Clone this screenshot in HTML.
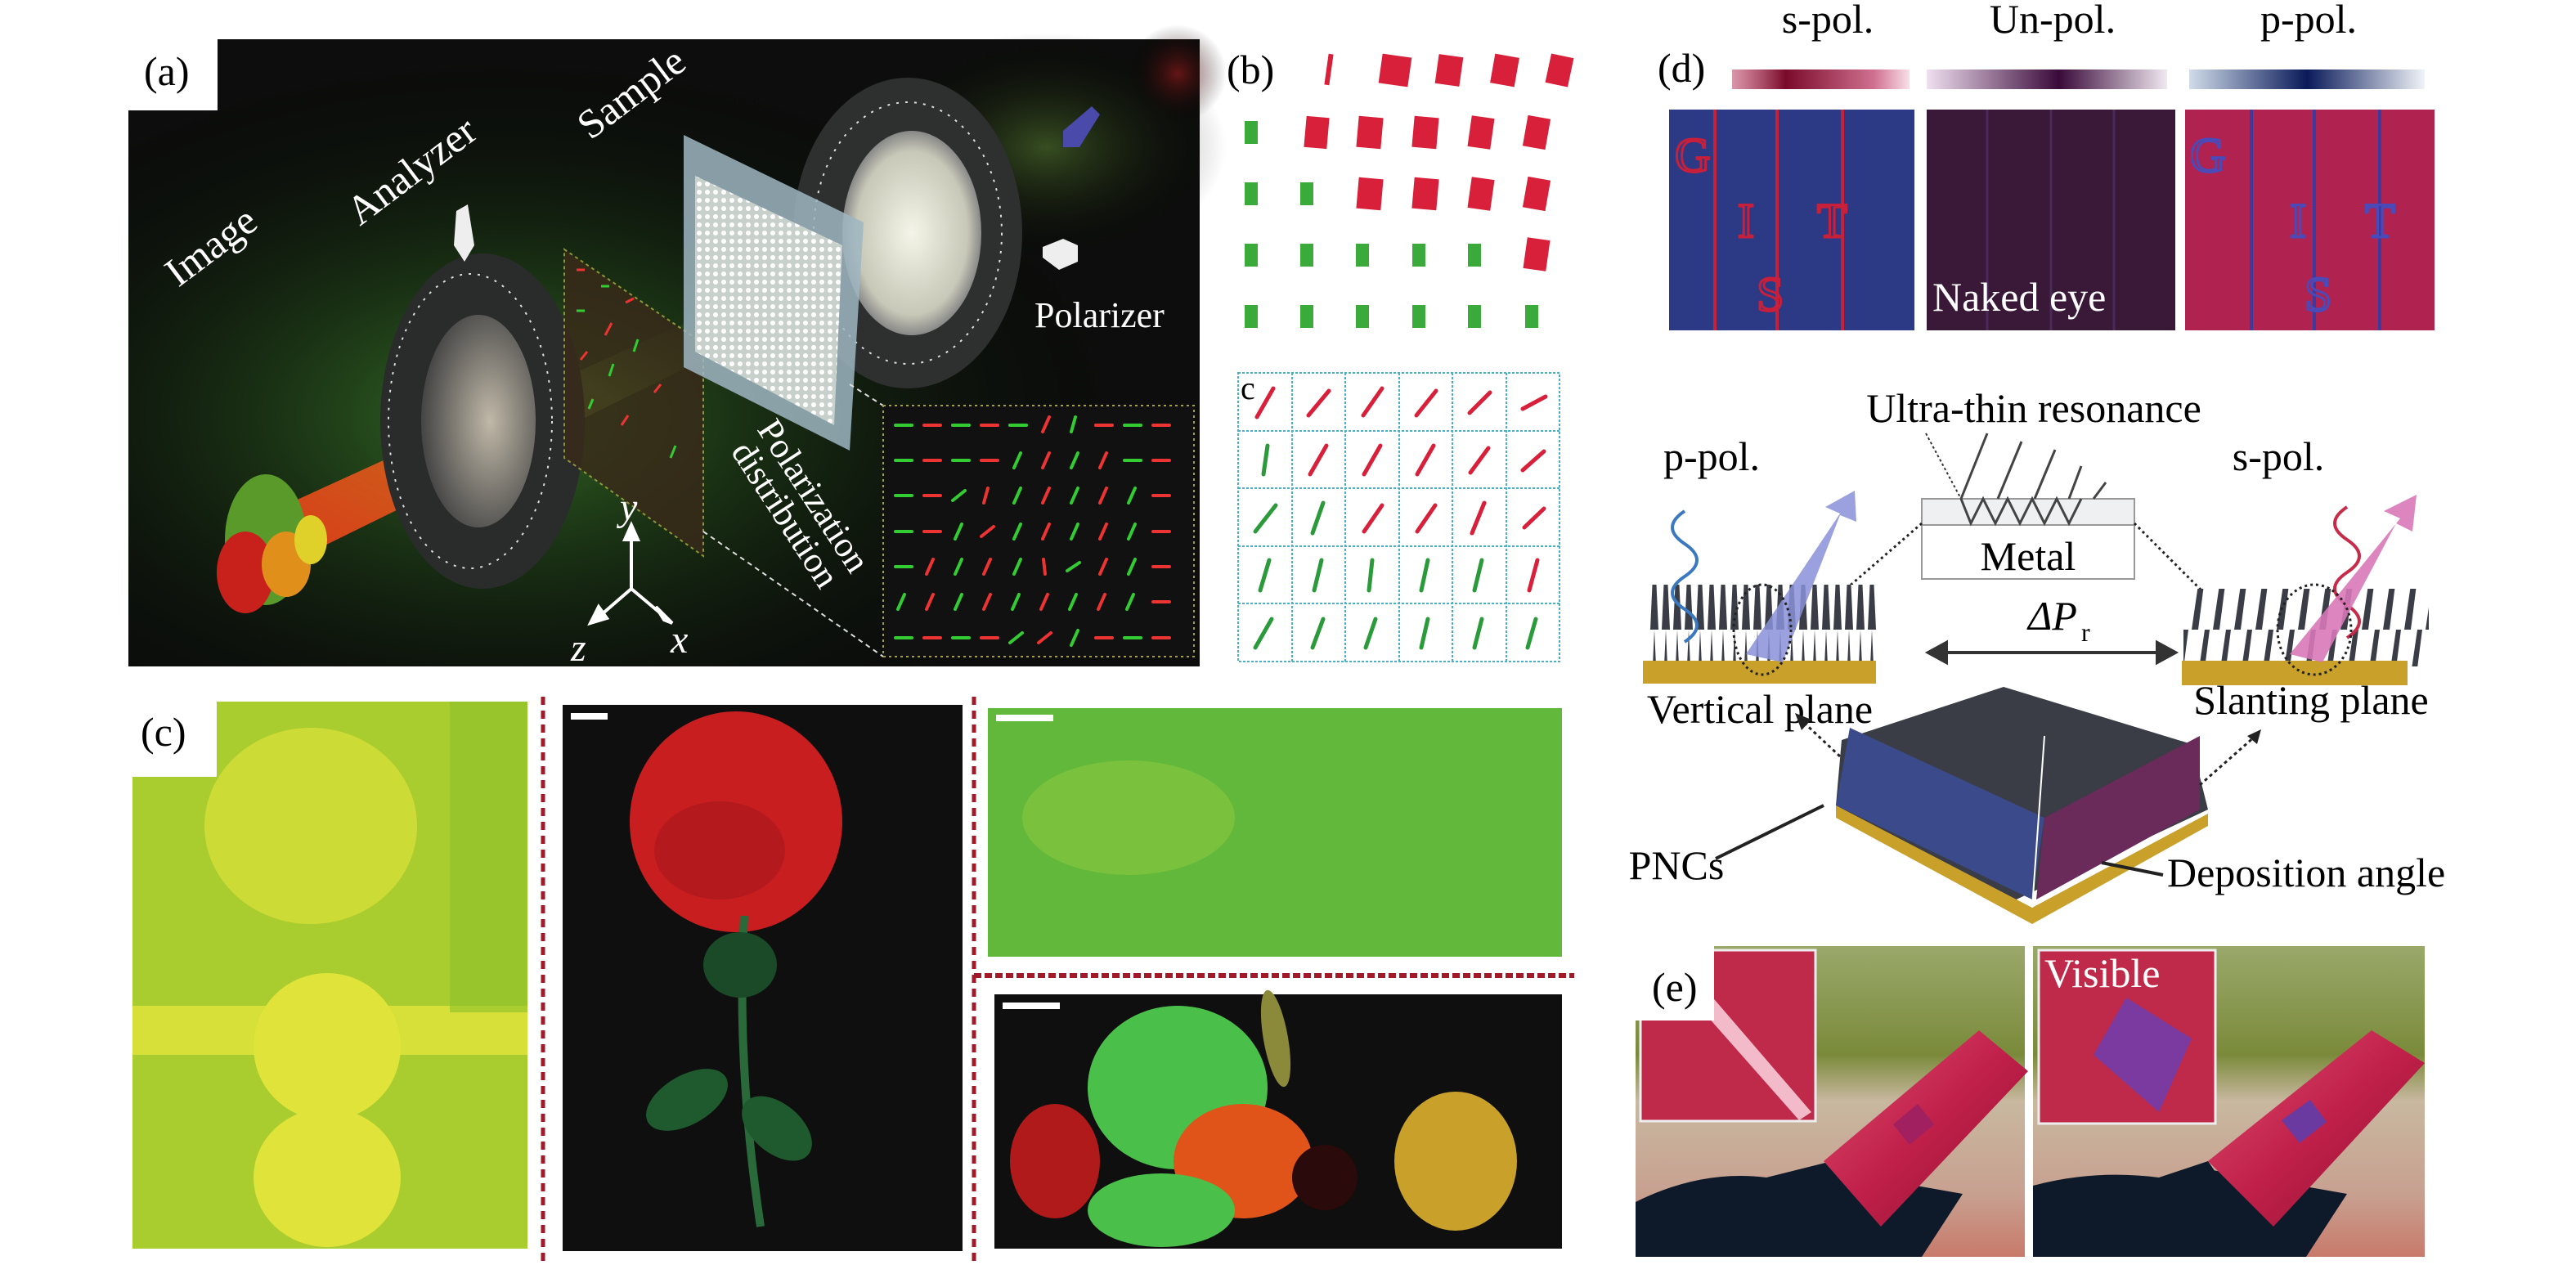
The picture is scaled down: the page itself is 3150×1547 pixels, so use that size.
<!DOCTYPE html>
<html><head><meta charset="utf-8"><style>
html,body{margin:0;padding:0;background:#fff;}
svg{display:block;}
text{font-family:"Liberation Serif",serif;}
</style></head><body>
<svg width="3150" height="1547" viewBox="0 0 3150 1547" xmlns="http://www.w3.org/2000/svg" font-family="Liberation Serif, serif">
<defs>
<radialGradient id="glowG" cx="0.35" cy="0.6" r="0.6"><stop offset="0" stop-color="#3a7a2a" stop-opacity="0.9"/><stop offset="1" stop-color="#000" stop-opacity="0"/></radialGradient>
<radialGradient id="glowTR" cx="0.5" cy="0.5" r="0.5"><stop offset="0" stop-color="#4a6a2a" stop-opacity="0.7"/><stop offset="1" stop-color="#000" stop-opacity="0"/></radialGradient>
<radialGradient id="glowR" cx="0.5" cy="0.5" r="0.5"><stop offset="0" stop-color="#8a1a1a" stop-opacity="0.7"/><stop offset="1" stop-color="#000" stop-opacity="0"/></radialGradient>
<linearGradient id="beam" x1="0" y1="1" x2="1" y2="0"><stop offset="0" stop-color="#ff3b1a"/><stop offset="0.45" stop-color="#e8641a"/><stop offset="0.7" stop-color="#7bbf3a" stop-opacity="0.7"/><stop offset="1" stop-color="#2a4a1a" stop-opacity="0"/></linearGradient>
<radialGradient id="lens" cx="0.5" cy="0.5" r="0.5"><stop offset="0" stop-color="#f4f4e8"/><stop offset="0.8" stop-color="#c8c8b8"/><stop offset="1" stop-color="#888"/></radialGradient>
<radialGradient id="lens2" cx="0.6" cy="0.5" r="0.6"><stop offset="0" stop-color="#c0b8a8"/><stop offset="1" stop-color="#444"/></radialGradient>
<linearGradient id="gs" x1="0" x2="1"><stop offset="0" stop-color="#c05070" stop-opacity="0.6"/><stop offset="0.3" stop-color="#7a0a2a"/><stop offset="0.8" stop-color="#d07090"/><stop offset="1" stop-color="#f8e0e8"/></linearGradient>
<linearGradient id="gu" x1="0" x2="1"><stop offset="0" stop-color="#f0e0f0"/><stop offset="0.55" stop-color="#3a0a3a"/><stop offset="1" stop-color="#f0e8f0"/></linearGradient>
<linearGradient id="gp" x1="0" x2="1"><stop offset="0" stop-color="#d0dcea"/><stop offset="0.5" stop-color="#0a1a5a"/><stop offset="1" stop-color="#f0f4f8"/></linearGradient>
<linearGradient id="sky" x1="0" y1="0" x2="0" y2="1"><stop offset="0" stop-color="#9aa86a"/><stop offset="0.35" stop-color="#7a8a3a"/><stop offset="0.5" stop-color="#c8b8a0"/><stop offset="0.8" stop-color="#c8a090"/><stop offset="1" stop-color="#c87a6a"/></linearGradient>
<linearGradient id="bottle" x1="0" y1="0" x2="1" y2="1"><stop offset="0" stop-color="#e05070"/><stop offset="0.5" stop-color="#c0204a"/><stop offset="1" stop-color="#901030"/></linearGradient>
<pattern id="spikes" width="14" height="110" patternUnits="userSpaceOnUse"><rect width="14" height="110" fill="#fff"/><path d="M2 110 L7 0 L12 110Z" fill="#3a3d45"/></pattern>
<pattern id="spikesS" width="26" height="110" patternUnits="userSpaceOnUse"><rect width="26" height="110" fill="#fff"/><path d="M2 110 L18 0 L24 0 L10 110Z" fill="#3a3d45"/></pattern>
<pattern id="dots" width="10" height="10" patternUnits="userSpaceOnUse"><rect width="10" height="10" fill="#c8d0cc"/><circle cx="5" cy="5" r="3" fill="#fff"/></pattern>
</defs>

<!-- ===== Panel (a) ===== -->
<rect x="157" y="48" width="1310" height="767" fill="#0c0d0c"/>
<rect x="157" y="48" width="1310" height="767" fill="url(#glowG)"/>
<ellipse cx="1280" cy="180" rx="220" ry="140" fill="url(#glowTR)"/>
<ellipse cx="1440" cy="90" rx="60" ry="60" fill="url(#glowR)"/>
<polygon points="1300,160 1335,130 1345,140 1320,180 1300,180" fill="#4a4aaa"/>
<polygon points="300,640 330,700 900,420 870,380" fill="url(#beam)" opacity="0.85"/>
<ellipse cx="325" cy="660" rx="50" ry="80" fill="#5a9a2a"/>
<ellipse cx="300" cy="700" rx="35" ry="50" fill="#c8201a"/>
<ellipse cx="350" cy="690" rx="30" ry="40" fill="#e0901a"/>
<ellipse cx="380" cy="660" rx="20" ry="30" fill="#e0d02a"/>
<ellipse cx="590" cy="515" rx="125" ry="205" fill="#2a2c2c"/>
<ellipse cx="575" cy="515" rx="100" ry="180" fill="none" stroke="#ddd" stroke-width="2" stroke-dasharray="3 8"/>
<ellipse cx="585" cy="515" rx="70" ry="130" fill="url(#lens2)"/>
<polygon points="558,258 572,250 580,300 568,320 555,300" fill="#eee"/>
<polygon points="690,305 860,420 860,680 690,560" fill="#3a2a1a" stroke="#aab040" stroke-width="2" stroke-dasharray="4 4" opacity="0.8"/>
<g stroke-width="3">
<line x1="705" y1="330" x2="715" y2="330" stroke="#e33"/><line x1="735" y1="350" x2="745" y2="350" stroke="#3c3"/><line x1="765" y1="370" x2="775" y2="365" stroke="#e33"/>
<line x1="705" y1="380" x2="715" y2="380" stroke="#3c3"/><line x1="740" y1="410" x2="748" y2="395" stroke="#e33"/><line x1="775" y1="430" x2="780" y2="415" stroke="#3c3"/>
<line x1="710" y1="440" x2="718" y2="430" stroke="#e33"/><line x1="745" y1="460" x2="750" y2="445" stroke="#3c3"/><line x1="800" y1="480" x2="808" y2="470" stroke="#e33"/>
<line x1="720" y1="500" x2="725" y2="488" stroke="#3c3"/><line x1="760" y1="520" x2="768" y2="508" stroke="#e33"/><line x1="820" y1="560" x2="826" y2="545" stroke="#3c3"/>
</g>
<ellipse cx="1110" cy="285" rx="140" ry="190" fill="#2e3030"/>
<ellipse cx="1110" cy="285" rx="115" ry="160" fill="none" stroke="#ddd" stroke-width="2" stroke-dasharray="3 8"/>
<ellipse cx="1115" cy="285" rx="85" ry="125" fill="url(#lens)"/>
<polygon points="1275,302 1300,292 1318,300 1318,320 1295,330 1275,315" fill="#eee"/>
<polygon points="836,165 1056,272 1039,551 836,449" fill="#9fb6c2" opacity="0.85"/>
<polygon points="850,215 1030,300 1020,520 850,430" fill="url(#dots)"/>
<line x1="1039" y1="470" x2="1080" y2="496" stroke="#ddd" stroke-width="2" stroke-dasharray="6 5"/>
<line x1="860" y1="650" x2="1080" y2="803" stroke="#ddd" stroke-width="2" stroke-dasharray="6 5"/>
<rect x="1080" y="496" width="380" height="307" fill="#111" stroke="#a0a040" stroke-width="2" stroke-dasharray="3 4"/>
<g stroke-width="4" stroke-linecap="round">
<line x1="1095" y1="520" x2="1115" y2="520" stroke="#3c3"/><line x1="1130" y1="520" x2="1150" y2="520" stroke="#e33"/><line x1="1165" y1="520" x2="1185" y2="520" stroke="#3c3"/><line x1="1200" y1="520" x2="1220" y2="520" stroke="#e33"/><line x1="1235" y1="520" x2="1255" y2="520" stroke="#3c3"/><line x1="1275" y1="528" x2="1283" y2="510" stroke="#e33"/><line x1="1310" y1="528" x2="1315" y2="510" stroke="#3c3"/><line x1="1340" y1="520" x2="1360" y2="520" stroke="#e33"/><line x1="1375" y1="520" x2="1395" y2="520" stroke="#3c3"/><line x1="1410" y1="520" x2="1430" y2="520" stroke="#e33"/>
<line x1="1095" y1="563" x2="1115" y2="563" stroke="#3c3"/><line x1="1130" y1="563" x2="1150" y2="563" stroke="#e33"/><line x1="1165" y1="563" x2="1185" y2="563" stroke="#3c3"/><line x1="1200" y1="563" x2="1220" y2="563" stroke="#e33"/><line x1="1240" y1="572" x2="1248" y2="554" stroke="#3c3"/><line x1="1275" y1="572" x2="1283" y2="554" stroke="#e33"/><line x1="1310" y1="572" x2="1318" y2="554" stroke="#3c3"/><line x1="1345" y1="572" x2="1353" y2="554" stroke="#e33"/><line x1="1375" y1="563" x2="1395" y2="563" stroke="#3c3"/><line x1="1410" y1="563" x2="1430" y2="563" stroke="#e33"/>
<line x1="1095" y1="606" x2="1115" y2="606" stroke="#3c3"/><line x1="1130" y1="606" x2="1150" y2="606" stroke="#e33"/><line x1="1165" y1="612" x2="1180" y2="600" stroke="#3c3"/><line x1="1203" y1="615" x2="1208" y2="597" stroke="#e33"/><line x1="1240" y1="615" x2="1248" y2="597" stroke="#3c3"/><line x1="1275" y1="615" x2="1283" y2="597" stroke="#e33"/><line x1="1310" y1="615" x2="1318" y2="597" stroke="#3c3"/><line x1="1345" y1="615" x2="1353" y2="597" stroke="#e33"/><line x1="1380" y1="615" x2="1388" y2="597" stroke="#3c3"/><line x1="1410" y1="606" x2="1430" y2="606" stroke="#e33"/>
<line x1="1095" y1="650" x2="1115" y2="650" stroke="#3c3"/><line x1="1130" y1="650" x2="1150" y2="650" stroke="#e33"/><line x1="1168" y1="659" x2="1176" y2="641" stroke="#3c3"/><line x1="1200" y1="656" x2="1215" y2="644" stroke="#e33"/><line x1="1240" y1="659" x2="1248" y2="641" stroke="#3c3"/><line x1="1275" y1="659" x2="1283" y2="641" stroke="#e33"/><line x1="1310" y1="659" x2="1318" y2="641" stroke="#3c3"/><line x1="1345" y1="659" x2="1353" y2="641" stroke="#e33"/><line x1="1380" y1="659" x2="1388" y2="641" stroke="#3c3"/><line x1="1410" y1="650" x2="1430" y2="650" stroke="#e33"/>
<line x1="1095" y1="693" x2="1115" y2="693" stroke="#3c3"/><line x1="1133" y1="702" x2="1141" y2="684" stroke="#e33"/><line x1="1168" y1="702" x2="1176" y2="684" stroke="#3c3"/><line x1="1203" y1="702" x2="1211" y2="684" stroke="#e33"/><line x1="1240" y1="702" x2="1248" y2="684" stroke="#3c3"/><line x1="1278" y1="702" x2="1276" y2="684" stroke="#e33"/><line x1="1305" y1="698" x2="1320" y2="688" stroke="#3c3"/><line x1="1345" y1="702" x2="1353" y2="684" stroke="#e33"/><line x1="1380" y1="702" x2="1388" y2="684" stroke="#3c3"/><line x1="1410" y1="693" x2="1430" y2="693" stroke="#e33"/>
<line x1="1098" y1="745" x2="1106" y2="727" stroke="#3c3"/><line x1="1133" y1="745" x2="1141" y2="727" stroke="#e33"/><line x1="1168" y1="745" x2="1176" y2="727" stroke="#3c3"/><line x1="1203" y1="745" x2="1211" y2="727" stroke="#e33"/><line x1="1238" y1="745" x2="1246" y2="727" stroke="#3c3"/><line x1="1273" y1="745" x2="1281" y2="727" stroke="#e33"/><line x1="1308" y1="745" x2="1316" y2="727" stroke="#3c3"/><line x1="1343" y1="745" x2="1351" y2="727" stroke="#e33"/><line x1="1378" y1="745" x2="1386" y2="727" stroke="#3c3"/><line x1="1410" y1="736" x2="1430" y2="736" stroke="#e33"/>
<line x1="1095" y1="780" x2="1115" y2="780" stroke="#3c3"/><line x1="1130" y1="780" x2="1150" y2="780" stroke="#e33"/><line x1="1165" y1="780" x2="1185" y2="780" stroke="#3c3"/><line x1="1200" y1="780" x2="1220" y2="780" stroke="#e33"/><line x1="1235" y1="786" x2="1250" y2="774" stroke="#3c3"/><line x1="1270" y1="786" x2="1285" y2="774" stroke="#e33"/><line x1="1310" y1="789" x2="1318" y2="771" stroke="#3c3"/><line x1="1340" y1="780" x2="1360" y2="780" stroke="#e33"/><line x1="1375" y1="780" x2="1395" y2="780" stroke="#3c3"/><line x1="1410" y1="780" x2="1430" y2="780" stroke="#e33"/>
</g>
<g stroke="#fff" stroke-width="4" fill="#fff">
<line x1="772" y1="720" x2="772" y2="655"/><polygon points="764,660 772,642 780,660"/>
<line x1="772" y1="720" x2="735" y2="752"/><polygon points="732,742 722,762 742,756"/>
<line x1="772" y1="720" x2="810" y2="752"/><polygon points="802,742 822,762 812,758"/>
</g>
<g fill="#fff" font-style="italic" font-size="48"><text x="758" y="636">y</text><text x="820" y="798">x</text><text x="698" y="808">z</text></g>
<g fill="#fff" font-size="50">
<text transform="translate(218,352) rotate(-37)">Image</text>
<text transform="translate(440,277) rotate(-37)">Analyzer</text>
<text transform="translate(722,172) rotate(-37)">Sample</text>
<text x="1265" y="400" font-size="44">Polarizer</text>
<text transform="translate(925,525) rotate(57)" font-size="44">Polarization</text>
<text transform="translate(893,552) rotate(57)" font-size="44">distribution</text>
</g>
<rect x="150" y="40" width="116" height="95" fill="#fff"/>
<text x="176" y="104" font-size="50">(a)</text>

<!-- ===== Panel (b) ===== -->
<text x="1500" y="102" font-size="50">(b)</text>
<g>
<rect x="1622" y="66" width="6" height="38" fill="#d8203a" transform="rotate(8 1625 85)"/>
<rect x="1688" y="68" width="36" height="36" fill="#d8203a" transform="rotate(8 1706 86)"/>
<rect x="1757" y="68" width="30" height="36" fill="#d8203a" transform="rotate(8 1772 86)"/>
<rect x="1825" y="68" width="30" height="36" fill="#d8203a" transform="rotate(10 1840 86)"/>
<rect x="1893" y="68" width="28" height="36" fill="#d8203a" transform="rotate(12 1907 86)"/>
</g>
<g>
<rect x="1522" y="148" width="16" height="28" fill="#3aaa3a"/>
<rect x="1596" y="143" width="28" height="38" fill="#d8203a" transform="rotate(5 1610 162)"/>
<rect x="1660" y="143" width="30" height="38" fill="#d8203a" transform="rotate(5 1675 162)"/>
<rect x="1728" y="143" width="30" height="38" fill="#d8203a" transform="rotate(5 1743 162)"/>
<rect x="1797" y="143" width="28" height="38" fill="#d8203a" transform="rotate(8 1811 162)"/>
<rect x="1865" y="143" width="28" height="38" fill="#d8203a" transform="rotate(10 1879 162)"/>
<rect x="1522" y="223" width="16" height="28" fill="#3aaa3a"/>
<rect x="1590" y="223" width="16" height="28" fill="#3aaa3a"/>
<rect x="1660" y="218" width="30" height="38" fill="#d8203a" transform="rotate(5 1675 237)"/>
<rect x="1728" y="218" width="30" height="38" fill="#d8203a" transform="rotate(5 1743 237)"/>
<rect x="1797" y="218" width="28" height="38" fill="#d8203a" transform="rotate(8 1811 237)"/>
<rect x="1865" y="218" width="28" height="38" fill="#d8203a" transform="rotate(10 1879 237)"/>
<rect x="1522" y="298" width="16" height="28" fill="#3aaa3a"/>
<rect x="1590" y="298" width="16" height="28" fill="#3aaa3a"/>
<rect x="1658" y="298" width="16" height="28" fill="#3aaa3a"/>
<rect x="1727" y="298" width="16" height="28" fill="#3aaa3a"/>
<rect x="1795" y="298" width="16" height="28" fill="#3aaa3a"/>
<rect x="1865" y="292" width="28" height="38" fill="#d8203a" transform="rotate(8 1879 311)"/>
<rect x="1522" y="373" width="16" height="28" fill="#3aaa3a"/>
<rect x="1590" y="373" width="16" height="28" fill="#3aaa3a"/>
<rect x="1658" y="373" width="16" height="28" fill="#3aaa3a"/>
<rect x="1727" y="373" width="16" height="28" fill="#3aaa3a"/>
<rect x="1795" y="373" width="16" height="28" fill="#3aaa3a"/>
<rect x="1865" y="373" width="16" height="28" fill="#3aaa3a"/>
</g>

<g stroke="#4ab0c8" stroke-width="2" stroke-dasharray="3 2" fill="none">
<rect x="1514" y="456" width="393" height="353"/>
<line x1="1580" y1="456" x2="1580" y2="809"/><line x1="1645" y1="456" x2="1645" y2="809"/><line x1="1711" y1="456" x2="1711" y2="809"/><line x1="1776" y1="456" x2="1776" y2="809"/><line x1="1842" y1="456" x2="1842" y2="809"/>
<line x1="1514" y1="527" x2="1907" y2="527"/><line x1="1514" y1="597" x2="1907" y2="597"/><line x1="1514" y1="668" x2="1907" y2="668"/><line x1="1514" y1="738" x2="1907" y2="738"/>
</g>
<g stroke-width="5" stroke-linecap="round">
<line x1="1537" y1="510" x2="1557" y2="475" stroke="#d8203a"/><line x1="1600" y1="508" x2="1625" y2="478" stroke="#d8203a"/><line x1="1667" y1="508" x2="1690" y2="475" stroke="#d8203a"/><line x1="1732" y1="508" x2="1756" y2="478" stroke="#d8203a"/><line x1="1797" y1="505" x2="1822" y2="480" stroke="#d8203a"/><line x1="1862" y1="500" x2="1890" y2="485" stroke="#d8203a"/>
<line x1="1545" y1="580" x2="1550" y2="545" stroke="#2a9a3a"/><line x1="1602" y1="580" x2="1622" y2="545" stroke="#d8203a"/><line x1="1668" y1="580" x2="1688" y2="545" stroke="#d8203a"/><line x1="1733" y1="580" x2="1753" y2="545" stroke="#d8203a"/><line x1="1798" y1="578" x2="1820" y2="548" stroke="#d8203a"/><line x1="1862" y1="575" x2="1888" y2="552" stroke="#d8203a"/>
<line x1="1535" y1="650" x2="1560" y2="618" stroke="#2a9a3a"/><line x1="1605" y1="652" x2="1618" y2="615" stroke="#2a9a3a"/><line x1="1668" y1="650" x2="1690" y2="618" stroke="#d8203a"/><line x1="1733" y1="650" x2="1755" y2="618" stroke="#d8203a"/><line x1="1800" y1="652" x2="1815" y2="615" stroke="#d8203a"/><line x1="1864" y1="645" x2="1888" y2="622" stroke="#d8203a"/>
<line x1="1541" y1="722" x2="1552" y2="685" stroke="#2a9a3a"/><line x1="1607" y1="722" x2="1616" y2="685" stroke="#2a9a3a"/><line x1="1674" y1="722" x2="1678" y2="685" stroke="#2a9a3a"/><line x1="1738" y1="722" x2="1746" y2="685" stroke="#2a9a3a"/><line x1="1803" y1="722" x2="1812" y2="685" stroke="#2a9a3a"/><line x1="1870" y1="722" x2="1880" y2="685" stroke="#d8203a"/>
<line x1="1535" y1="792" x2="1555" y2="757" stroke="#2a9a3a"/><line x1="1605" y1="792" x2="1618" y2="757" stroke="#2a9a3a"/><line x1="1670" y1="792" x2="1682" y2="757" stroke="#2a9a3a"/><line x1="1738" y1="792" x2="1746" y2="757" stroke="#2a9a3a"/><line x1="1803" y1="792" x2="1812" y2="757" stroke="#2a9a3a"/><line x1="1868" y1="792" x2="1878" y2="757" stroke="#2a9a3a"/>
</g>
<text x="1517" y="488" font-size="40">c</text>

<!-- ===== Panel (c) ===== -->
<rect x="162" y="858" width="483" height="669" fill="#a9cc2e"/>
<ellipse cx="380" cy="1010" rx="130" ry="120" fill="#d6df38" opacity="0.8"/>
<rect x="162" y="1230" width="483" height="60" fill="#d6e038"/>
<ellipse cx="400" cy="1280" rx="90" ry="90" fill="#e0e43a"/>
<ellipse cx="400" cy="1440" rx="90" ry="85" fill="#e0e43a"/>
<rect x="550" y="858" width="95" height="380" fill="#8cc02a" opacity="0.6"/>
<rect x="150" y="850" width="115" height="100" fill="#fff"/>
<text x="172" y="912" font-size="50">(c)</text>
<line x1="664" y1="852" x2="664" y2="1547" stroke="#a01a2a" stroke-width="5" stroke-dasharray="10 7"/>
<rect x="688" y="862" width="489" height="668" fill="#0e0f0e"/>
<rect x="698" y="872" width="45" height="8" fill="#fff"/>
<ellipse cx="900" cy="1005" rx="130" ry="135" fill="#c81e20"/>
<ellipse cx="880" cy="1040" rx="80" ry="60" fill="#a0141a" opacity="0.5"/>
<path d="M910 1120 Q900 1300 930 1500" stroke="#2a6a3a" stroke-width="10" fill="none"/>
<ellipse cx="840" cy="1345" rx="55" ry="30" fill="#1e5a2e" transform="rotate(-30 840 1345)"/>
<ellipse cx="950" cy="1380" rx="50" ry="30" fill="#1e5a2e" transform="rotate(40 950 1380)"/>
<ellipse cx="905" cy="1180" rx="45" ry="40" fill="#1a4a28"/>
<line x1="1191" y1="852" x2="1191" y2="1547" stroke="#a01a2a" stroke-width="5" stroke-dasharray="10 7"/>
<rect x="1208" y="866" width="702" height="304" fill="#62b83a"/>
<ellipse cx="1380" cy="1000" rx="130" ry="70" fill="#8ac840" opacity="0.6"/>
<rect x="1218" y="874" width="70" height="8" fill="#fff"/>
<line x1="1191" y1="1193" x2="1925" y2="1193" stroke="#a01a2a" stroke-width="6" stroke-dasharray="9 4"/>
<rect x="1216" y="1216" width="694" height="311" fill="#0e0f0e"/>
<rect x="1226" y="1226" width="70" height="8" fill="#fff"/>
<ellipse cx="1440" cy="1330" rx="110" ry="100" fill="#4ac04a"/>
<ellipse cx="1290" cy="1420" rx="55" ry="70" fill="#b01a1a"/>
<ellipse cx="1520" cy="1420" rx="85" ry="70" fill="#e0541a"/>
<ellipse cx="1780" cy="1420" rx="75" ry="85" fill="#c8a02a"/>
<ellipse cx="1420" cy="1480" rx="90" ry="45" fill="#4ac04a"/>
<ellipse cx="1620" cy="1440" rx="40" ry="40" fill="#2a0a0a"/>
<ellipse cx="1560" cy="1270" rx="15" ry="60" fill="#8a8a3a" transform="rotate(-10 1560 1270)"/>

<!-- ===== Panel (d) ===== -->
<text x="2027" y="100" font-size="50">(d)</text>
<rect x="2118" y="85" width="217" height="24" fill="url(#gs)"/>
<rect x="2356" y="85" width="294" height="24" fill="url(#gu)"/>
<rect x="2677" y="85" width="288" height="24" fill="url(#gp)"/>
<g font-size="50" text-anchor="middle"><text x="2235" y="40">s-pol.</text><text x="2510" y="40">Un-pol.</text><text x="2823" y="40">p-pol.</text></g>
<rect x="2041" y="134" width="300" height="270" fill="#2c3a86"/>
<g stroke="#c8203a" stroke-width="4"><line x1="2097" y1="134" x2="2097" y2="404"/><line x1="2173" y1="134" x2="2173" y2="404"/><line x1="2253" y1="134" x2="2253" y2="404"/></g>
<g font-family="Liberation Sans,sans-serif" font-size="60" fill="none" stroke="#c8203a" stroke-width="3"><text x="2048" y="210">G</text><text x="2125" y="290">I</text><text x="2148" y="380">S</text><text x="2222" y="290">T</text></g>
<rect x="2356" y="134" width="304" height="270" fill="#3a1838"/>
<g stroke="#4a2a5a" stroke-width="3"><line x1="2430" y1="134" x2="2430" y2="404"/><line x1="2508" y1="134" x2="2508" y2="404"/><line x1="2585" y1="134" x2="2585" y2="404"/></g>
<text x="2363" y="380" font-size="50" fill="#fff">Naked eye</text>
<rect x="2672" y="134" width="305" height="270" fill="#b02250"/>
<g stroke="#3a3aa0" stroke-width="4"><line x1="2753" y1="134" x2="2753" y2="404"/><line x1="2830" y1="134" x2="2830" y2="404"/><line x1="2910" y1="134" x2="2910" y2="404"/></g>
<g font-family="Liberation Sans,sans-serif" font-size="60" fill="none" stroke="#4a4ab8" stroke-width="3"><text x="2678" y="210">G</text><text x="2800" y="290">I</text><text x="2818" y="380">S</text><text x="2892" y="290">T</text></g>

<text x="2487" y="516" font-size="50" text-anchor="middle">Ultra-thin resonance</text>
<text x="2093" y="575" font-size="50" text-anchor="middle">p-pol.</text>
<text x="2786" y="575" font-size="50" text-anchor="middle">s-pol.</text>
<rect x="2350" y="610" width="260" height="32" fill="#eef0f2" stroke="#999" stroke-width="2"/>
<rect x="2350" y="642" width="260" height="66" fill="#fff" stroke="#999" stroke-width="2"/>
<text x="2480" y="697" font-size="50" text-anchor="middle">Metal</text>
<path d="M2355 530 L2398 610" stroke="#333" stroke-width="2" stroke-dasharray="3 3" fill="none"/>
<path d="M2398 610 L2410 640 L2425 610 L2440 640 L2455 610 L2470 640 L2485 610 L2500 640 L2515 610 L2530 640 L2545 610" stroke="#444" stroke-width="3" fill="none"/>
<g stroke="#444" stroke-width="3"><line x1="2398" y1="610" x2="2430" y2="530"/><line x1="2443" y1="610" x2="2472" y2="540"/><line x1="2488" y1="610" x2="2513" y2="550"/><line x1="2530" y1="610" x2="2545" y2="570"/><line x1="2560" y1="610" x2="2575" y2="590"/></g>
<g stroke="#222" stroke-width="3" stroke-dasharray="3 4" fill="none"><line x1="2350" y1="640" x2="2200" y2="770"/><line x1="2610" y1="640" x2="2760" y2="790"/></g>
<rect x="2015" y="715" width="283" height="97" fill="url(#spikes)"/>
<rect x="2009" y="808" width="285" height="28" fill="#c8a02a"/>
<path d="M2060 625 q-30 20 0 40 q30 20 0 40 q-30 20 0 40 q30 20 0 40" stroke="#3a78c0" stroke-width="4" fill="none"/>
<polygon points="2135,800 2180,810 2250,630 2270,638 2268,600 2232,620 2250,628" fill="#8a90d8" opacity="0.85"/>
<ellipse cx="2155" cy="770" rx="35" ry="55" fill="none" stroke="#222" stroke-width="3" stroke-dasharray="3 4"/>
<rect x="2670" y="720" width="300" height="95" fill="url(#spikesS)"/>
<rect x="2668" y="808" width="276" height="30" fill="#c8a02a"/>
<path d="M2870 620 q-30 20 0 40 q30 20 0 40 q-30 20 0 40 q30 20 0 40" stroke="#c82a4a" stroke-width="4" fill="none"/>
<polygon points="2800,800 2840,810 2930,640 2950,650 2955,605 2915,625 2935,634" fill="#d878b8" opacity="0.9"/>
<ellipse cx="2830" cy="770" rx="45" ry="55" fill="none" stroke="#222" stroke-width="3" stroke-dasharray="3 4"/>
<text x="2480" y="770" font-size="50" font-style="italic">ΔP</text>
<text x="2545" y="784" font-size="32">r</text>
<g stroke="#333" stroke-width="4" fill="#333"><line x1="2370" y1="798" x2="2645" y2="798"/><polygon points="2358,798 2380,786 2380,810"/><polygon points="2660,798 2638,786 2638,810"/></g>
<text x="2152" y="884" font-size="50" text-anchor="middle">Vertical plane</text>
<text x="2826" y="873" font-size="50" text-anchor="middle">Slanting plane</text>
<polygon points="2455,1105 2245,985 2252,905 2450,840 2680,910 2700,990" fill="#3a3d45"/>
<polygon points="2245,985 2485,1100 2500,1000 2262,890" fill="#3a4a8a"/>
<polygon points="2490,1100 2690,990 2690,900 2500,1000" fill="#6a2a5a"/>
<polygon points="2245,985 2485,1110 2700,995 2700,1010 2485,1130 2245,1000" fill="#c8a02a"/>
<line x1="2500" y1="900" x2="2485" y2="1110" stroke="#fff" stroke-width="2"/>
<g stroke="#222" stroke-width="3" stroke-dasharray="4 4"><line x1="2250" y1="925" x2="2202" y2="880"/><line x1="2690" y1="960" x2="2758" y2="900"/></g>
<polygon points="2195,872 2215,880 2203,893" fill="#222"/><polygon points="2765,892 2748,900 2760,910" fill="#222"/>
<text x="2050" y="1075" font-size="50" text-anchor="middle">PNCs</text>
<line x1="2098" y1="1050" x2="2230" y2="985" stroke="#222" stroke-width="4"/>
<text x="2650" y="1084" font-size="50">Deposition angle</text>
<line x1="2645" y1="1070" x2="2570" y2="1055" stroke="#222" stroke-width="4"/>

<!-- ===== Panel (e) ===== -->
<rect x="2000" y="1157" width="476" height="380" fill="url(#sky)"/>
<rect x="2486" y="1157" width="479" height="380" fill="url(#sky)"/>
<path d="M2000 1537 L2000 1470 Q2080 1430 2160 1440 L2240 1420 L2300 1537Z" fill="#0e1a2a"/>
<polygon points="2230,1430 2300,1537 2350,1537 2400,1460" fill="#0e1a2a"/>
<polygon points="2230,1420 2420,1260 2480,1310 2300,1500" fill="url(#bottle)"/>
<polygon points="2315,1375 2345,1350 2365,1375 2335,1400" fill="#a02060"/>
<path d="M2486 1537 L2486 1450 Q2560 1430 2640 1440 L2700 1420 L2780 1537Z" fill="#0e1a2a"/>
<polygon points="2700,1430 2780,1537 2820,1537 2870,1460" fill="#0e1a2a"/>
<polygon points="2700,1420 2900,1260 2965,1300 2780,1500" fill="url(#bottle)"/>
<polygon points="2790,1370 2825,1345 2845,1372 2812,1398" fill="#6a3aa0"/>
<rect x="2006" y="1162" width="214" height="209" fill="#c02a4a" stroke="#eee" stroke-width="3"/>
<polygon points="2050,1200 2200,1370 2215,1360 2060,1180" fill="#ffe0e8" opacity="0.8"/>
<rect x="2493" y="1162" width="216" height="212" fill="#c02a4a" stroke="#eee" stroke-width="3"/>
<polygon points="2600,1220 2680,1270 2640,1360 2560,1290" fill="#7a3aa0"/>
<rect x="1995" y="1150" width="101" height="98" fill="#fff"/>
<text x="2020" y="1224" font-size="50">(e)</text>
<text x="2500" y="1207" font-size="50" fill="#fff">Visible</text>
</svg>
</body></html>
